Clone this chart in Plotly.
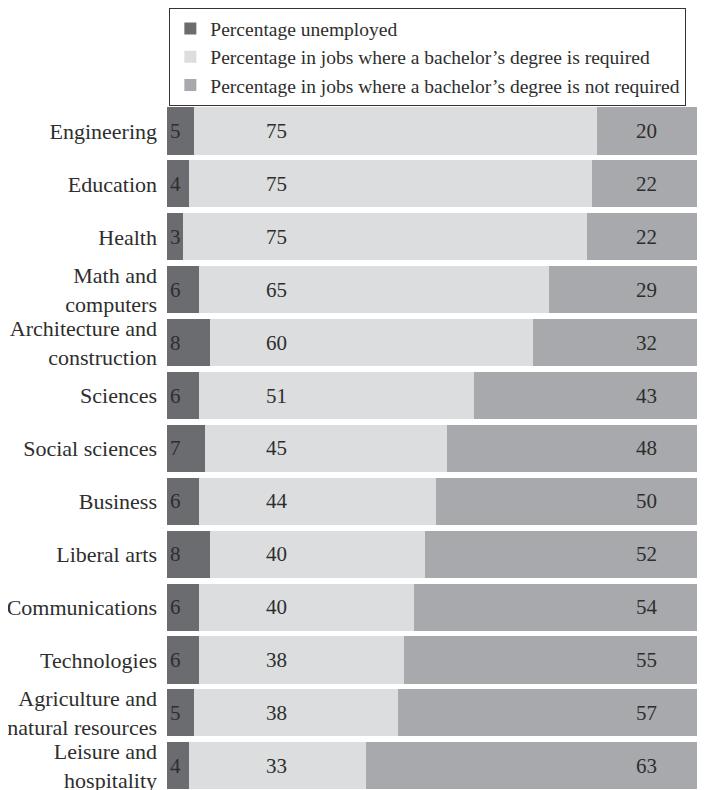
import plotly.graph_objects as go

categories = [
    "Engineering", "Education", "Health", "Math and<br>computers",
    "Architecture and<br>construction", "Sciences", "Social sciences",
    "Business", "Liberal arts", "Communications", "Technologies",
    "Agriculture and<br>natural resources", "Leisure and<br>hospitality",
]
unemployed = [5, 4, 3, 6, 8, 6, 7, 6, 8, 6, 6, 5, 4]
required = [75, 75, 75, 65, 60, 51, 45, 44, 40, 40, 38, 38, 33]
not_required = [20, 22, 22, 29, 32, 43, 48, 50, 52, 54, 55, 57, 63]

series_names = [
    "Percentage unemployed",
    "Percentage in jobs where a bachelor\u2019s degree is required",
    "Percentage in jobs where a bachelor\u2019s degree is not required",
]
colors = ["#6b6c70", "#dcdddf", "#a8a9ac"]
FONT = "Liberation Serif, Times New Roman, serif"
TXT = "#2e2e2e"

fig = go.Figure()
for name, vals, col in zip(series_names, [unemployed, required, not_required], colors):
    fig.add_trace(go.Bar(
        y=categories, x=vals, name=name, orientation="h",
        marker=dict(color=col, line=dict(width=0)),
        hoverinfo="x+name",
    ))

annotations = []
for cat, u, r, n in zip(categories, unemployed, required, not_required):
    annotations.append(dict(x=0.2, y=cat, text=str(u), xanchor="left", showarrow=False,
                            font=dict(family=FONT, size=21, color=TXT)))
    annotations.append(dict(x=20.4, y=cat, text=str(r), xanchor="center", showarrow=False,
                            font=dict(family=FONT, size=21, color=TXT)))
    annotations.append(dict(x=89.2, y=cat, text=str(n), xanchor="center", showarrow=False,
                            font=dict(family=FONT, size=21, color=TXT)))

fig.update_layout(
    width=697, height=782,
    barmode="stack", bargap=0.11,
    margin=dict(l=159, r=0, t=92, b=0, autoexpand=False),
    paper_bgcolor="white", plot_bgcolor="white",
    font=dict(family=FONT, size=21, color=TXT),
    showlegend=True,
    legend=dict(
        x=0.004, y=1.1333, xanchor="left", yanchor="top",
        orientation="v", traceorder="normal",
        bordercolor="#333333", borderwidth=1.2,
        font=dict(family=FONT, size=19.5, color=TXT),
        itemwidth=30, tracegroupgap=0,
        bgcolor="white",
    ),
    xaxis=dict(range=[0, 100], visible=False, fixedrange=True),
    yaxis=dict(
        range=[12.457, -0.586], showgrid=False, zeroline=False, showline=False,
        ticks="", ticklabelstandoff=9,
        tickfont=dict(family=FONT, size=22, color=TXT),
    ),
    annotations=annotations,
)

fig.write_html("out.html")
